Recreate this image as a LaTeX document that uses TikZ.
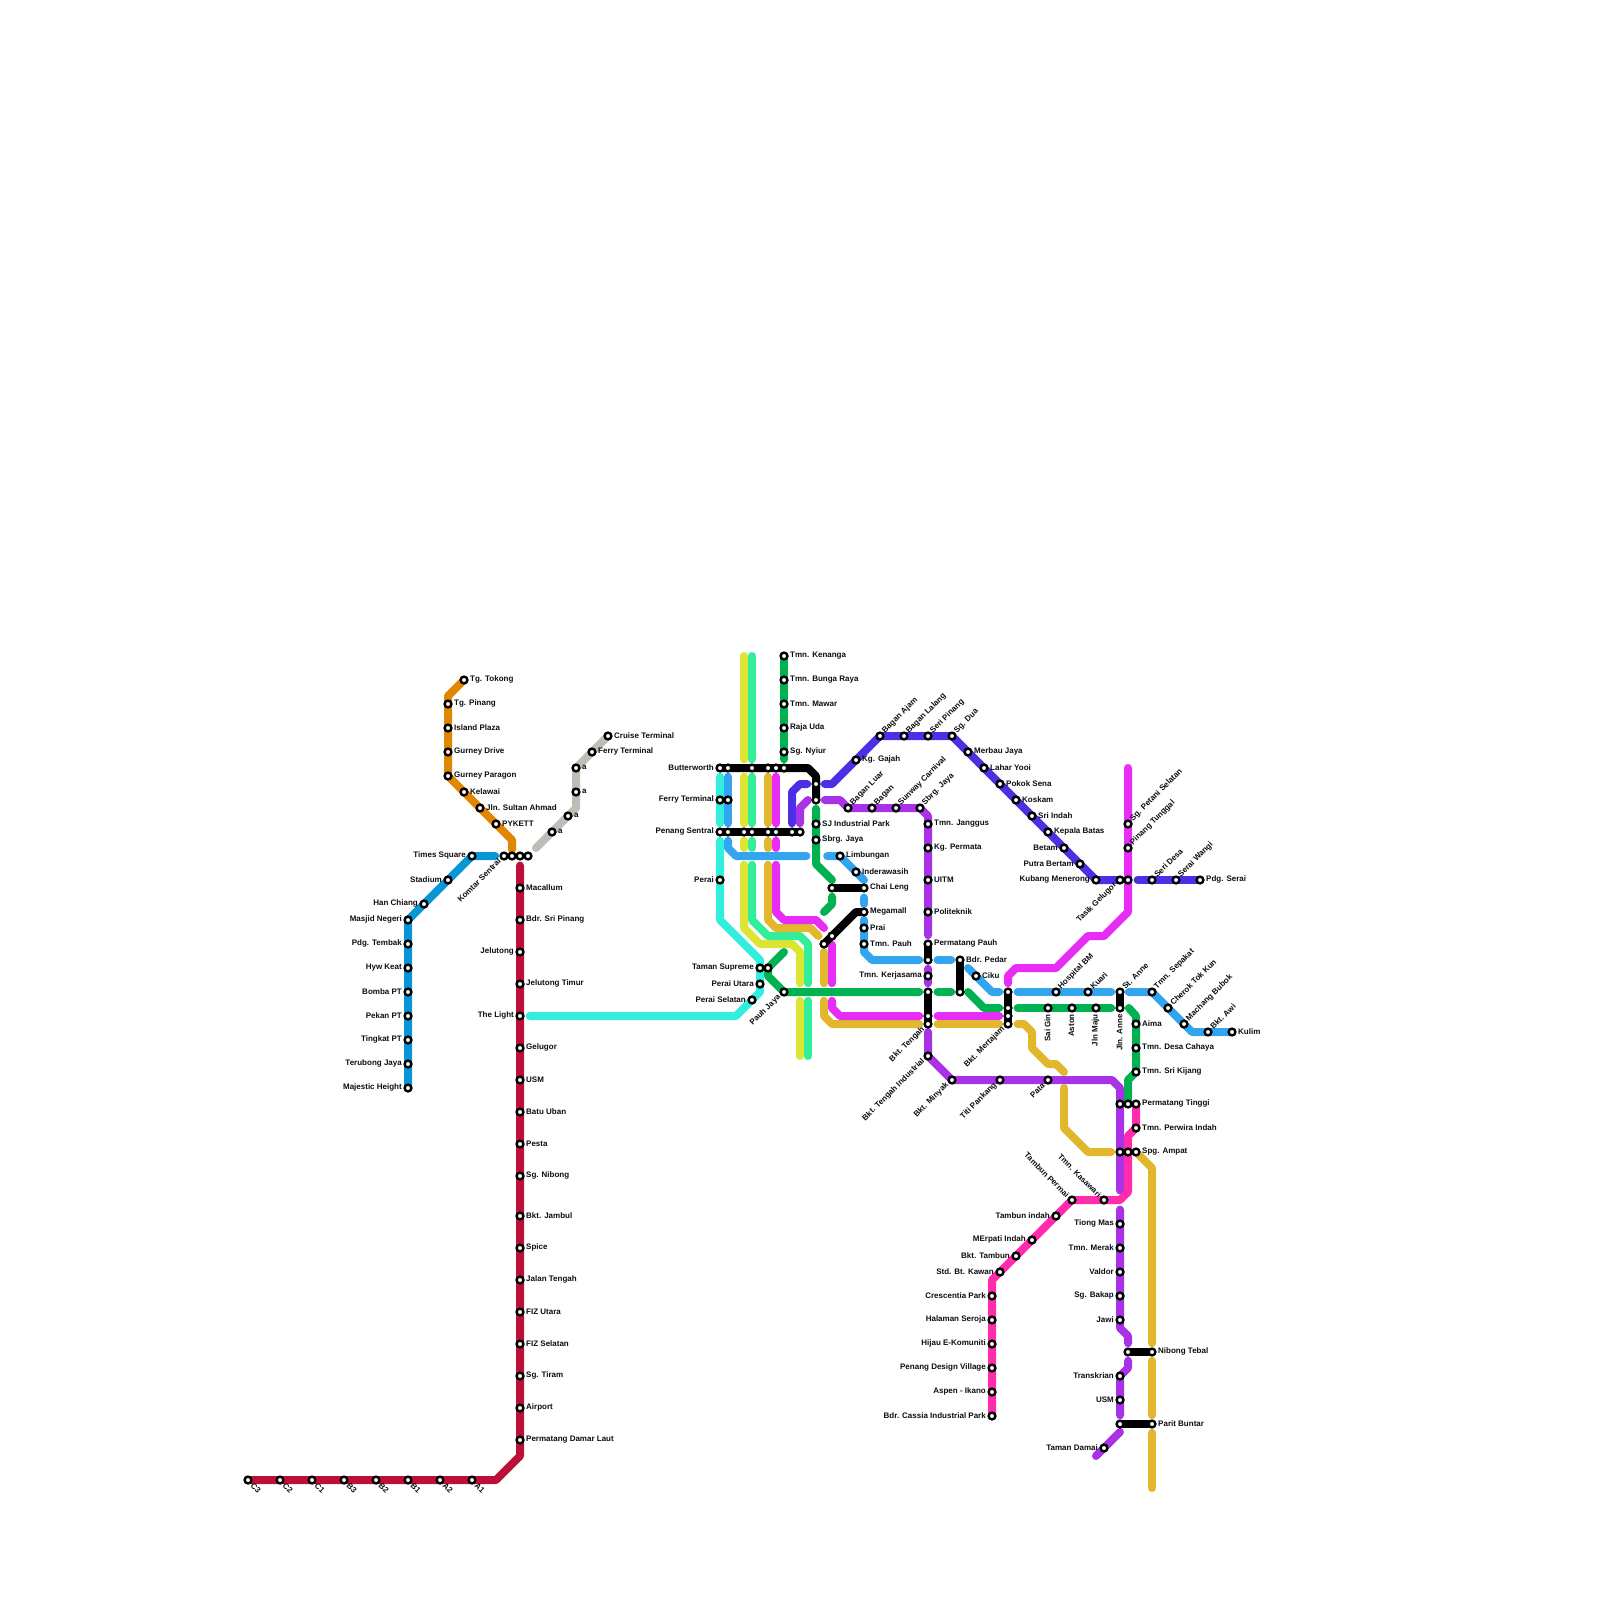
\documentclass[tikz,border=0pt]{standalone}
\usepackage{fontspec}
\setmainfont{Liberation Sans}
\usetikzlibrary{backgrounds}
\definecolor{cRed}{HTML}{BD1038}
\definecolor{cBlue}{HTML}{0896D7}
\definecolor{cOrange}{HTML}{E08600}
\definecolor{cGray}{HTML}{BEBEB6}
\definecolor{cCyan}{HTML}{33EEDD}
\definecolor{cMint}{HTML}{33EE99}
\definecolor{cYellow}{HTML}{DDE533}
\definecolor{cGold}{HTML}{E0B72D}
\definecolor{cMag}{HTML}{E62CF5}
\definecolor{cInd}{HTML}{4D2FE6}
\definecolor{cPur}{HTML}{A833E6}
\definecolor{cSky}{HTML}{33A4EE}
\definecolor{cGreen}{HTML}{00B251}
\definecolor{cPink}{HTML}{FF2DAD}
\tikzset{
  stn/.style={circle,draw=black,fill=white,line width=2.4pt,minimum size=6.8pt,inner sep=0pt},
  lbl/.style={inner sep=0pt,font=\fontsize{8}{9}\selectfont\bfseries,text=black!95},
  R/.style={anchor=west,xshift=6pt,yshift=0.2pt},
  L/.style={anchor=east,xshift=-6pt,yshift=0.2pt},
  U/.style={anchor=west,xshift=3.5pt,yshift=4pt,rotate=45},
  D/.style={anchor=east,xshift=-4.5pt,yshift=-4pt,rotate=45},
  V/.style={anchor=east,xshift=-0.5pt,yshift=-6pt,rotate=90},
  S/.style={anchor=west,xshift=4pt,yshift=-4pt,rotate=-45},
  T/.style={anchor=east,xshift=-4pt,yshift=4pt,rotate=-45},
  ln/.style={line width=8pt,line cap=round,line join=round},
}
\newcommand{\st}[5]{\node[stn] (#2) at (#3,#4) {};\node[lbl,#1] (#2t) at (#2.center) {#5};}
\newcommand{\sn}[3]{\node[stn] (#1) at (#2,#3) {};}
\begin{document}
\begin{tikzpicture}[x=8pt,y=-8pt]
\useasboundingbox (0,0) rectangle (200,200);
% Red line
\st{S}{cthree}{31}{185}{C3}\st{S}{ctwo}{35}{185}{C2}\st{S}{cone}{39}{185}{C1}\st{S}{bthree}{43}{185}{B3}
\st{S}{btwo}{47}{185}{B2}\st{S}{bone}{51}{185}{B1}\st{S}{atwo}{55}{185}{A2}\st{S}{aone}{59}{185}{A1}
\st{R}{maca}{65}{111}{Macallum}\st{R}{bsp}{65}{115}{Bdr. Sri Pinang}\st{L}{jel}{65}{119}{Jelutong}
\st{R}{jelt}{65}{123}{Jelutong Timur}\st{L}{light}{65}{127}{The Light}\st{R}{gel}{65}{131}{Gelugor}
\st{R}{usma}{65}{135}{USM}\st{R}{batu}{65}{139}{Batu Uban}\st{R}{pesta}{65}{143}{Pesta}
\st{R}{sgn}{65}{147}{Sg. Nibong}\st{R}{jamb}{65}{152}{Bkt. Jambul}\st{R}{spice}{65}{156}{Spice}
\st{R}{jten}{65}{160}{Jalan Tengah}\st{R}{fizu}{65}{164}{FIZ Utara}\st{R}{fizs}{65}{168}{FIZ Selatan}
\st{R}{tiram}{65}{172}{Sg. Tiram}\st{R}{airp}{65}{176}{Airport}\st{R}{pdl}{65}{180}{Permatang Damar Laut}
% Blue line
\st{L}{times}{59}{107}{Times Square}\st{L}{stad}{56}{110}{Stadium}\st{L}{han}{53}{113}{Han Chiang}
\st{L}{masj}{51}{115}{Masjid Negeri}\st{L}{pdg}{51}{118}{Pdg. Tembak}\st{L}{hyw}{51}{121}{Hyw Keat}
\st{L}{bomba}{51}{124}{Bomba PT}\st{L}{pekan}{51}{127}{Pekan PT}\st{L}{ting}{51}{130}{Tingkat PT}
\st{L}{teru}{51}{133}{Terubong Jaya}\st{L}{maje}{51}{136}{Majestic Height}
% Komtar
\st{D}{komtar}{63}{107}{Komtar Sentral}\sn{kb}{64}{107}\sn{kc}{65}{107}\sn{kd}{66}{107}
% Orange
\st{R}{tok}{58}{85}{Tg. Tokong}\st{R}{tpin}{56}{88}{Tg. Pinang}\st{R}{isl}{56}{91}{Island Plaza}
\st{R}{gdr}{56}{94}{Gurney Drive}\st{R}{gpa}{56}{97}{Gurney Paragon}\st{R}{kel}{58}{99}{Kelawai}
\st{R}{jsa}{60}{101}{Jln. Sultan Ahmad}\st{R}{pyk}{62}{103}{PYKETT}
% Gray
\st{R}{gaa}{69}{104}{a}\st{R}{gab}{71}{102}{a}\st{R}{gac}{72}{99}{a}\st{R}{gad}{72}{96}{a}
\st{R}{fter}{74}{94}{Ferry Terminal}\st{R}{cruise}{76}{92}{Cruise Terminal}
% Butterworth group
\st{L}{butt}{90}{96}{Butterworth}\sn{bb}{91}{96}\sn{bc}{94}{96}\sn{bd}{96}{96}\sn{be}{97}{96}\sn{bf}{98}{96}
\st{L}{ferry}{90}{100}{Ferry Terminal}\sn{fb}{91}{100}
\st{L}{pens}{90}{104}{Penang Sentral}\sn{pb}{91}{104}\sn{pc}{93}{104}\sn{pd}{94}{104}\sn{pe}{96}{104}\sn{pf}{97}{104}\sn{pg}{99}{104}\sn{ph}{100}{104}
\st{L}{perai}{90}{110}{Perai}
\st{L}{tsup}{95}{121}{Taman Supreme}\sn{tsb}{96}{121}\st{L}{putara}{95}{123}{Perai Utara}\st{L}{psel}{94}{125}{Perai Selatan}
% Green north
\st{R}{kena}{98}{82}{Tmn. Kenanga}\st{R}{bung}{98}{85}{Tmn. Bunga Raya}\st{R}{mawar}{98}{88}{Tmn. Mawar}
\st{R}{raja}{98}{91}{Raja Uda}\st{R}{nyiur}{98}{94}{Sg. Nyiur}
\st{D}{pauh}{98}{124}{Pauh Jaya}
% Indigo
\sn{ia}{102}{98}\sn{ib}{102}{100}
\st{R}{gajah}{107}{95}{Kg. Gajah}\st{U}{ajam}{110}{92}{Bagan Ajam}\st{U}{lalang}{113}{92}{Bagan Lalang}
\st{U}{spin}{116}{92}{Seri Pinang}\st{U}{sdua}{119}{92}{Sg. Dua}\st{R}{merb}{121}{94}{Merbau Jaya}
\st{R}{lahar}{123}{96}{Lahar Yooi}\st{R}{pokok}{125}{98}{Pokok Sena}\st{R}{kosk}{127}{100}{Koskam}
\st{R}{sri}{129}{102}{Sri Indah}\st{R}{kepala}{131}{104}{Kepala Batas}\st{L}{betam}{133}{106}{Betam}
\st{L}{putra}{135}{108}{Putra Bertam}\st{L}{kubang}{137}{110}{Kubang Menerong}\st{D}{tasik}{140}{110}{Tasik Gelugor}
\sn{tasb}{141}{110}\st{U}{sdesa}{144}{110}{Seri Desa}\st{U}{swangi}{147}{110}{Serai Wangi}\st{R}{pserai}{150}{110}{Pdg. Serai}
\st{U}{petani}{141}{103}{Sg. Petani Selatan}\st{U}{tunggal}{141}{106}{Pinang Tunggal}
% Purple
\st{U}{bluar}{106}{101}{Bagan Luar}\st{U}{bagan}{109}{101}{Bagan}\st{U}{sunway}{112}{101}{Sunway Carnival}
\st{U}{sbjn}{115}{101}{Sbrg. Jaya}\st{R}{jang}{116}{103}{Tmn. Janggus}\st{R}{perm}{116}{106}{Kg. Permata}
\st{R}{uitm}{116}{110}{UITM}\st{R}{poli}{116}{114}{Politeknik}\st{R}{ppauh}{116}{118}{Permatang Pauh}
\sn{mtb}{116}{120}\st{L}{kerj}{116}{122}{Tmn. Kerjasama}\sn{mtc}{116}{124}\sn{mtd}{116}{127}\st{D}{btng}{116}{128}{Bkt. Tengah}
\st{D}{bti}{116}{132}{Bkt. Tengah Industrial}\st{D}{bmin}{119}{135}{Bkt. Minyak}\st{D}{titi}{125}{135}{Titi Pankang}
\st{D}{pata}{131}{135}{Pata}
% Green mid
\st{R}{sji}{102}{103}{SJ Industrial Park}\st{R}{sbj}{102}{105}{Sbrg. Jaya}
\st{R}{limb}{105}{107}{Limbungan}\st{R}{inde}{107}{109}{Inderawasih}\sn{cha}{104}{111}\st{R}{chai}{108}{111}{Chai Leng}
\st{R}{mega}{108}{114}{Megamall}\st{R}{prai}{108}{116}{Prai}\st{R}{tpauh}{108}{118}{Tmn. Pauh}
\sn{gb}{103}{118}\sn{gc}{104}{117}
\st{R}{pedar}{120}{120}{Bdr. Pedar}\st{R}{ciku}{122}{122}{Ciku}\sn{pedb}{120}{124}
% East
\sn{mta}{126}{124}\sn{mtf}{126}{126}\sn{mtg}{126}{127}\st{D}{mert}{126}{128}{Bkt. Mertajam}
\st{U}{hosp}{132}{124}{Hospital BM}\st{U}{kuari}{136}{124}{Kuari}\st{U}{anne}{140}{124}{St. Anne}
\st{U}{sepa}{144}{124}{Tmn. Sepakat}\st{U}{cher}{146}{126}{Cherok Tok Kun}\st{U}{mach}{148}{128}{Machang Bubok}
\st{U}{awi}{151}{129}{Bkt. Awi}\st{R}{kulim}{154}{129}{Kulim}
\st{V}{saig}{131}{126}{Sai Gin}\st{V}{aston}{134}{126}{Aston}\st{V}{maju}{137}{126}{Jln Maju}\st{V}{janne}{140}{126}{Jln. Anne}
\st{R}{aima}{142}{128}{Aima}\st{R}{desa}{142}{131}{Tmn. Desa Cahaya}\st{R}{kijang}{142}{134}{Tmn. Sri Kijang}
\sn{pta}{140}{138}\sn{ptb}{141}{138}\st{R}{ptinggi}{142}{138}{Permatang Tinggi}
\st{R}{perwira}{142}{141}{Tmn. Perwira Indah}
\sn{spa}{140}{144}\sn{spb}{141}{144}\st{R}{spg}{142}{144}{Spg. Ampat}
% Pink
\st{T}{tper}{134}{150}{Tambun Permai}\st{T}{kasa}{138}{150}{Tmn. Kasawari}\st{L}{tind}{132}{152}{Tambun indah}
\st{L}{merp}{129}{155}{MErpati Indah}\st{L}{btam}{127}{157}{Bkt. Tambun}\st{L}{stdb}{125}{159}{Std. Bt. Kawan}
\st{L}{cres}{124}{162}{Crescentia Park}\st{L}{hala}{124}{165}{Halaman Seroja}\st{L}{hija}{124}{168}{Hijau E-Komuniti}
\st{L}{pdv}{124}{171}{Penang Design Village}\st{L}{aspen}{124}{174}{Aspen - Ikano}\st{L}{cass}{124}{177}{Bdr. Cassia Industrial Park}
% South purple
\st{L}{tiong}{140}{153}{Tiong Mas}\st{L}{merak}{140}{156}{Tmn. Merak}\st{L}{vald}{140}{159}{Valdor}
\st{L}{bakap}{140}{162}{Sg. Bakap}\st{L}{jawi}{140}{165}{Jawi}\sn{nia}{141}{169}\st{R}{nibong}{144}{169}{Nibong Tebal}
\st{L}{trans}{140}{172}{Transkrian}\st{L}{usmb}{140}{175}{USM}\sn{paa}{140}{178}\st{R}{parit}{144}{178}{Parit Buntar}
\st{L}{damai}{138}{181}{Taman Damai}

\begin{scope}[on background layer]
% red, blue, orange, gray
\draw[ln,cRed] (65,108.2) -- (pdl.center) -- (65,182) -- (62,185) -- (cthree.center);
\draw[ln,cBlue] (maje.center) -- (masj.center) -- (times.center) -- (61.9,107);
\draw[ln,cOrange] (tok.center) -- (56,87) -- (gpa.center) -- (64,105) -- (64,106.2);
\draw[ln,cGray] (67,106) -- (72,101) -- (gad.center) -- (cruise.center);
% cyan
\draw[ln,cCyan] (66.2,127) -- (92,127) -- (95,124) -- (95,120) -- (90,115) -- (90,105.1);
\draw[ln,cCyan] (90,97.1) -- (90,102.9);
% sky
\draw[ln,cSky] (91,97.1) -- (91,102.9);
\draw[ln,cSky] (91,105.1) -- (91,106) -- (92,107) -- (100.8,107);
\draw[ln,cSky] (103.4,107) -- (limb.center) -- (108,110);
\draw[ln,cSky] (108,112.2) -- (108,113);
\draw[ln,cSky] (108,115) -- (108,119) -- (109,120) -- (114.9,120);
\draw[ln,cSky] (117.2,120) -- (118.9,120);
\draw[ln,cSky] (121,121) -- (124,124) -- (124.9,124);
\draw[ln,cSky] (127.2,124) -- (138.9,124);
\draw[ln,cSky] (141.1,124) -- (sepa.center) -- (149,129) -- (kulim.center);
% yellow
\draw[ln,cYellow] (93,82) -- (93,94.9);
\draw[ln,cYellow] (93,97.1) -- (93,102.9);
\draw[ln,cYellow] (93,105.1) -- (93,106);
\draw[ln,cYellow] (93,108.1) -- (93,116) -- (95,118) -- (99,118) -- (100,119) -- (100,122.9);
\draw[ln,cYellow] (100,125.1) -- (100,132);
% mint
\draw[ln,cMint] (94,82) -- (94,94.9);
\draw[ln,cMint] (94,97.1) -- (94,102.9);
\draw[ln,cMint] (94,105.1) -- (94,106);
\draw[ln,cMint] (94,108.1) -- (94,115) -- (96,117) -- (100,117) -- (101,118) -- (101,122.9);
\draw[ln,cMint] (101,125.1) -- (101,132);
% gold
\draw[ln,cGold] (96,97.1) -- (96,102.9);
\draw[ln,cGold] (96,105.1) -- (96,106);
\draw[ln,cGold] (96,108.1) -- (96,115) -- (97,116) -- (101.3,116) -- (102.3,117);
\draw[ln,cGold] (103,119) -- (103,122.9);
\draw[ln,cGold] (103,125.1) -- (103,127) -- (104,128) -- (114.9,128);
\draw[ln,cGold] (117.2,128) -- (124.9,128);
\draw[ln,cGold] (127.2,128) -- (128,128) -- (129,129) -- (129,131) -- (131,133) -- (132,133) -- (133,134);
\draw[ln,cGold] (133,136) -- (133,141) -- (136,144) -- (138.9,144);
\draw[ln,cGold] (142,144) -- (144,146) -- (144,167.9);
\draw[ln,cGold] (144,170.1) -- (144,176.9);
\draw[ln,cGold] (144,179.1) -- (144,186);
% magenta
\draw[ln,cMag] (97,97.1) -- (97,102.9);
\draw[ln,cMag] (97,105.1) -- (97,106);
\draw[ln,cMag] (97,108.1) -- (97,114) -- (98,115) -- (102,115) -- (103,116);
\draw[ln,cMag] (104,118.1) -- (104,122.9);
\draw[ln,cMag] (104,125.1) -- (104,126) -- (105,127) -- (114.9,127);
\draw[ln,cMag] (117.2,127) -- (124.9,127);
\draw[ln,cMag] (126,122.9) -- (126,122) -- (127,121) -- (132,121) -- (136,117) -- (138,117) -- (141,114) -- (141,96);
% indigo
\draw[ln,cInd] (99,102.9) -- (99,99) -- (100,98) -- (100.9,98);
\draw[ln,cInd] (103.1,98) -- (104,98) -- (ajam.center) -- (sdua.center) -- (kubang.center) -- (tasik.center);
\draw[ln,cInd] (142.2,110) -- (pserai.center);
% purple
\draw[ln,cPur] (100,102.9) -- (100,101) -- (101,100);
\draw[ln,cPur] (103.1,100) -- (105,100) -- (bluar.center) -- (sbjn.center) -- (116,102) -- (116,116.9);
\draw[ln,cPur] (116,121.1) -- (116,122.9);
\draw[ln,cPur] (116,129) -- (bti.center) -- (bmin.center) -- (139,135) -- (140,136) -- (140,148.8);
\draw[ln,cPur] (140,151.2) -- (jawi.center) -- (140,166) -- (141,167) -- (141,167.9);
\draw[ln,cPur] (141,170.1) -- (141,171) -- (trans.center) -- (140,176.9);
\draw[ln,cPur] (140,179) -- (137,182);
% green
\draw[ln,cGreen] (kena.center) -- (98,94.9);
\draw[ln,cGreen] (102,101.1) -- (102,108) -- (104,110);
\draw[ln,cGreen] (104,112.1) -- (104,113) -- (103,114);
\draw[ln,cGreen] (98,119) -- (96,121) -- (96,122) -- (pauh.center) -- (114.9,124);
\draw[ln,cGreen] (117.2,124) -- (118.9,124);
\draw[ln,cGreen] (121,124) -- (123,126) -- (124.9,126);
\draw[ln,cGreen] (127.2,126) -- (138.9,126);
\draw[ln,cGreen] (141.1,126) -- (142,127) -- (kijang.center) -- (141,135) -- (ptb.center);
% pink
\draw[ln,cPink] (cass.center) -- (124,160) -- (tper.center) -- (140,150) -- (141,149) -- (141,142) -- (perwira.center) -- (ptinggi.center);
% black links
\draw[ln,black] (butt.center) -- (101,96) -- (102,97) -- (ib.center);
\draw[ln,black] (pens.center) -- (ph.center);
\draw[ln,black] (cha.center) -- (chai.center);
\draw[ln,black] (gb.center) -- (107,114) -- (mega.center);
\draw[ln,black] (ppauh.center) -- (mtb.center);
\draw[ln,black] (mtc.center) -- (btng.center);
\draw[ln,black] (pedar.center) -- (pedb.center);
\draw[ln,black] (mta.center) -- (mert.center);
\draw[ln,black] (anne.center) -- (janne.center);
\draw[ln,black] (nia.center) -- (nibong.center);
\draw[ln,black] (paa.center) -- (parit.center);
\end{scope}
\end{tikzpicture}
\end{document}
